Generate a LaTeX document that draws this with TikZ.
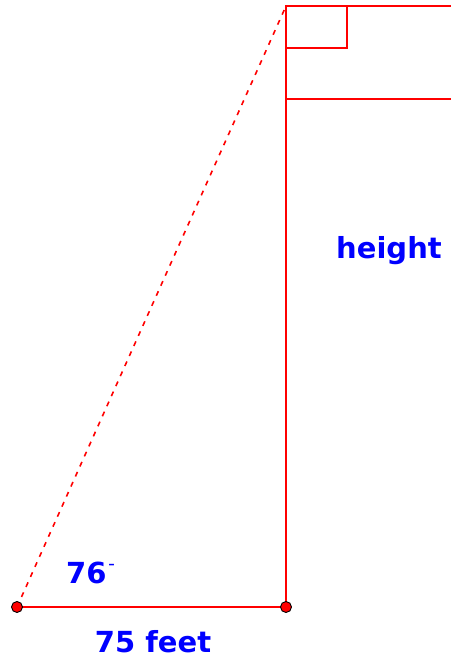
\documentclass[tikz,border=0pt]{standalone}
\usepackage{fontspec}
\newfontfamily\labfont{DejaVu Sans}[BoldFont={DejaVu Sans Bold}]
\begin{document}
\begin{tikzpicture}[x=1pt,y=-1pt,
  redline/.style={draw=red,line width=2pt},
  dashline/.style={draw=red,line width=1.6pt,dash pattern=on 5pt off 6pt},
  dot/.style={circle,fill=red,draw=black,line width=0.9pt,inner sep=0pt,minimum size=11pt},
  lab/.style={text=blue,font=\labfont\bfseries\fontsize{29}{31}\selectfont,inner sep=0pt}]
\useasboundingbox (0,0) rectangle (451,659);
\coordinate (A) at (17,607);
\coordinate (B) at (286,607);
\coordinate (C) at (286,6);
\coordinate (R1) at (451,6);
\coordinate (H1) at (286,99);
\coordinate (R2) at (451,99);
\coordinate (S1) at (347,6);
\coordinate (S2) at (347,48);
\coordinate (S3) at (286,48);
\draw[dashline] (A) -- (C);
\draw[redline] (A) -- (B) -- (C) -- (R1);
\draw[redline] (H1) -- (R2);
\draw[redline] (S1) -- (S2) -- (S3);
\node[dot] (a) at (A) {};
\node[dot] (b) at (B) {};
\node[lab,anchor=base west] (t76) at (66,583) {76\hspace{1pt}\raisebox{0.22em}{\fontsize{16}{16}\selectfont\textasciimacron}};
\node[lab,anchor=base] (t75) at (153,652) {75 feet};
\node[lab,anchor=base] (th) at (389,258) {height};
\end{tikzpicture}
\end{document}
